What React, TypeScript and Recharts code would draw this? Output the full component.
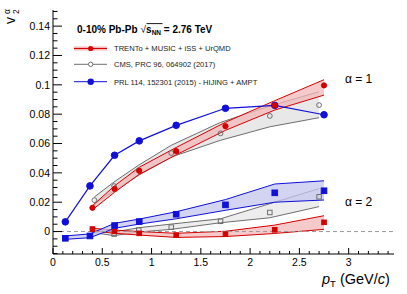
import React from 'react';
import { ComposedChart, Area, Line, Scatter, XAxis, YAxis, ReferenceLine } from 'recharts';

const FONT = '"Liberation Sans", Arial, Helvetica, sans-serif';

// TRENTo + MUSIC + iSS + UrQMD (red)
const trentoPt = [0.4, 0.625, 0.875, 1.25, 1.75, 2.25, 2.75];
const trentoV21 = [0.0162, 0.029, 0.0414, 0.0548, 0.0718, 0.086, 0.0996];
const trentoV21Lo = [0.0148, 0.0268, 0.039, 0.0523, 0.069, 0.0828, 0.093];
const trentoV21Hi = [0.0176, 0.0312, 0.0438, 0.0573, 0.0745, 0.0892, 0.1035];
const trentoV22 = [0.0017, 0.0001, -0.0012, -0.0024, -0.0018, 0.0012, 0.0063];
const trentoV22Lo = [0.0004, -0.0012, -0.0024, -0.004, -0.0034, -0.0013, 0.0015];
const trentoV22Hi = [0.0022, 0.001, 0.0, -0.0012, 0.0002, 0.0044, 0.0108];

// CMS, PRC 96, 064902 (2017) (gray)
const cmsPt = [0.42, 0.62, 0.87, 1.2, 1.7, 2.2, 2.7];
const cmsV21 = [0.0214, 0.031, 0.0418, 0.0535, 0.0669, 0.0788, 0.0862];
const cmsV21Lo = [0.019, 0.0277, 0.0384, 0.0508, 0.0622, 0.0714, 0.0776];
const cmsV21Hi = [0.0236, 0.0338, 0.0453, 0.0588, 0.0744, 0.0855, 0.0953];
const cmsV22 = [null, -0.0017, 0.001, 0.003, 0.007, 0.013, 0.0237];
const cmsV22Lo = [-0.0008, -0.0028, -0.0003, 0.0015, 0.006, 0.0094, 0.017];
const cmsV22Hi = [0.0009, -0.0003, 0.0026, 0.0051, 0.0087, 0.019, 0.0293];

// PRL 114, 152301 (2015) - HIJING + AMPT (blue)
const amptPt = [0.125, 0.375, 0.625, 0.875, 1.25, 1.75, 2.25, 2.75];
const amptV21 = [0.0066, 0.0311, 0.052, 0.0618, 0.0724, 0.084, 0.086, 0.0796];
const amptV22 = [-0.0046, -0.003, 0.0041, 0.0068, 0.0118, 0.0182, 0.0264, 0.0278];
const amptV22Lo = [-0.0053, -0.0042, 0.0022, 0.0051, 0.0087, 0.0145, 0.02, 0.0215];
const amptV22Hi = [-0.003, -0.0016, 0.0056, 0.0085, 0.0135, 0.0218, 0.0324, 0.0346];

// axis ticks
const xMajor = [0, 0.5, 1, 1.5, 2, 2.5, 3];
const xLabels = ['0', '0.5', '1', '1.5', '2', '2.5', '3'];
const yMajor = [0, 0.02, 0.04, 0.06, 0.08, 0.1, 0.12, 0.14];
const yLabels = ['0', '0.02', '0.04', '0.06', '0.08', '0.1', '0.12', '0.14'];
const xTicks = Array.from({ length: 35 }, (_, i) => i / 10);
const yTicks = Array.from({ length: 34 }, (_, i) => Math.round((i - 3) * 5) / 1000);

const X_DOMAIN: [number, number] = [0, 3.46];
const Y_DOMAIN: [number, number] = [-0.0153, 0.151];

const RED = '#d40000';
const RED_FILL = '#f3b8b8';
const GRAY = '#6e6e6e';
const GRAY_FILL = '#e8e8e8';
const BLUE = '#1010d8';
const BLUE_FILL = '#c4c4ee';

const band = (pt: number[], lo: number[], hi: number[]) =>
  pt.map((x, i) => ({ x, range: [lo[i], hi[i]] }));
const pts = (pt: number[], v: (number | null)[]) =>
  pt.map((x, i) => ({ x, y: v[i] })).filter((d) => d.y !== null);

const idxOf = (arr: number[], v: number) => arr.findIndex((m) => Math.abs(m - v) < 1e-9);

const BottomTick = (p: any) => {
  const { x, y, payload } = p;
  const i = idxOf(xMajor, payload.value);
  const len = i >= 0 ? 6 : 3;
  return (
    <g>
      <line x1={x} x2={x} y1={y} y2={y - len} stroke="#000" strokeWidth={1} />
      {i >= 0 && (
        <text x={x} y={y + 12} textAnchor="middle" fontSize={10.5} fontFamily={FONT} fill="#000">
          {xLabels[i]}
        </text>
      )}
    </g>
  );
};
const TopTick = (p: any) => {
  const { x, y, payload } = p;
  const len = idxOf(xMajor, payload.value) >= 0 ? 6 : 3;
  return <line x1={x} x2={x} y1={y} y2={y + len} stroke="#000" strokeWidth={1} />;
};
const LeftTick = (p: any) => {
  const { x, y, payload } = p;
  const i = idxOf(yMajor, payload.value);
  const len = i >= 0 ? 9 : 4.5;
  return (
    <g>
      <line x1={x} x2={x + len} y1={y} y2={y} stroke="#000" strokeWidth={1} />
      {i >= 0 && (
        <text x={x - 3} y={y} dy="0.36em" textAnchor="end" fontSize={10.5} fontFamily={FONT} fill="#000">
          {yLabels[i]}
        </text>
      )}
    </g>
  );
};
const RightTick = (p: any) => {
  const { x, y, payload } = p;
  const len = idxOf(yMajor, payload.value) >= 0 ? 9 : 4.5;
  return <line x1={x} x2={x - len} y1={y} y2={y} stroke="#000" strokeWidth={1} />;
};

const circle = (fill: string, stroke: string, r: number) => (p: any) =>
  <circle cx={p.cx} cy={p.cy} r={r} fill={fill} stroke={stroke} strokeWidth={1} />;
const square = (fill: string, stroke: string, s: number) => (p: any) =>
  <rect x={p.cx - s / 2} y={p.cy - s / 2} width={s} height={s} fill={fill} stroke={stroke} strokeWidth={1} />;

const Overlay = () => (
  <svg width={407} height={294} style={{ position: 'absolute', left: 0, top: 0, pointerEvents: 'none' }}>
    {/* y-axis title */}
    <text transform="translate(15,24) rotate(-90)" fontSize={14} fontFamily={FONT} fill="#000">v</text>
    <text transform="translate(19,14) rotate(-90)" fontSize={8.5} fontFamily={FONT} fill="#000">2</text>
    <text transform="translate(10,14) rotate(-90)" fontSize={8.5} fontFamily={FONT} fill="#000">α</text>
    {/* x-axis title */}
    <text x={322} y={284} fontSize={14.5} fontFamily={FONT} fill="#000">
      <tspan fontStyle="italic">p</tspan>
      <tspan fontSize={9.5} dy={3}>T</tspan>
      <tspan dy={-3} dx={4}>(GeV/</tspan>
      <tspan fontStyle="italic">c</tspan>
      <tspan>)</tspan>
    </text>
    {/* header */}
    <text x={77} y={33} fontSize={10} fontWeight="bold" fontFamily={FONT} fill="#000">
      0-10% Pb-Pb
      <tspan dx={3} fontWeight="normal">√</tspan>
      <tspan>s</tspan>
      <tspan fontSize={6.5} dy={2}>NN</tspan>
      <tspan dy={-2}> = 2.76 TeV</tspan>
    </text>
    <line x1={146.5} x2={162.5} y1={23.6} y2={23.6} stroke="#000" strokeWidth={0.9} />
    {/* legend */}
    <rect x={74} y={46.5} width={33} height={4} fill={RED_FILL} />
    <line x1={74} x2={107} y1={48.5} y2={48.5} stroke={RED} strokeWidth={1} />
    <circle cx={90.7} cy={48.5} r={2.6} fill={RED} />
    <text x={114} y={51.3} fontSize={7.6} fontFamily={FONT} fill="#222">TRENTo + MUSIC + iSS + UrQMD</text>
    <line x1={74} x2={107} y1={64.3} y2={64.3} stroke={GRAY} strokeWidth={1} />
    <circle cx={90.7} cy={64.3} r={2.2} fill="#fff" stroke={GRAY} strokeWidth={1} />
    <text x={114} y={67.1} fontSize={7.6} fontFamily={FONT} fill="#222">CMS, PRC 96, 064902 (2017)</text>
    <line x1={74} x2={107} y1={81.7} y2={81.7} stroke={BLUE} strokeWidth={1} />
    <circle cx={90.7} cy={81.7} r={3.2} fill={BLUE} />
    <text x={114} y={84.5} fontSize={7.6} fontFamily={FONT} fill="#222">PRL 114, 152301 (2015) - HIJING + AMPT</text>
    {/* alpha labels */}
    <text x={345} y={83} fontSize={12} fontFamily={FONT} fill="#000">α = 1</text>
    <text x={345} y={206} fontSize={12} fontFamily={FONT} fill="#000">α = 2</text>
  </svg>
);

export default function App() {
  return (
    <div style={{ position: 'absolute', left: 0, top: 0, width: 407, height: 294, background: '#fff' }}>
      <ComposedChart width={407} height={294} margin={{ top: 10, right: 13, bottom: 20, left: 0 }}>
        <XAxis
          xAxisId={0}
          type="number"
          dataKey="x"
          domain={X_DOMAIN}
          allowDataOverflow
          ticks={xTicks}
          interval={0}
          tickSize={0}
          tickMargin={0}
          tickLine={false}
          axisLine={{ stroke: '#000', strokeWidth: 1 }}
          tick={<BottomTick />}
          height={20}
        />
        <XAxis
          xAxisId="top"
          orientation="top"
          type="number"
          dataKey="x"
          domain={X_DOMAIN}
          allowDataOverflow
          ticks={xTicks}
          interval={0}
          tickSize={0}
          tickMargin={0}
          tickLine={false}
          axisLine={{ stroke: '#000', strokeWidth: 1 }}
          tick={<TopTick />}
          height={0}
        />
        <YAxis
          yAxisId={0}
          type="number"
          domain={Y_DOMAIN}
          allowDataOverflow
          ticks={yTicks}
          interval={0}
          tickSize={0}
          tickMargin={0}
          tickLine={false}
          axisLine={{ stroke: '#000', strokeWidth: 1 }}
          tick={<LeftTick />}
          width={53}
        />
        <YAxis
          yAxisId="right"
          orientation="right"
          type="number"
          domain={Y_DOMAIN}
          allowDataOverflow
          ticks={yTicks}
          interval={0}
          tickSize={0}
          tickMargin={0}
          tickLine={false}
          axisLine={{ stroke: '#000', strokeWidth: 1 }}
          tick={<RightTick />}
          width={0}
        />
        <ReferenceLine y={0} stroke="#9a9a9a" strokeDasharray="4 3" strokeWidth={1} />

        <Area data={band(cmsPt, cmsV21Lo, cmsV21Hi)} dataKey="range" type="linear" stroke={GRAY} strokeWidth={1} fill={GRAY_FILL} fillOpacity={1} isAnimationActive={false} dot={false} activeDot={false} />
        <Area data={band(cmsPt, cmsV22Lo, cmsV22Hi)} dataKey="range" type="linear" stroke={GRAY} strokeWidth={1} fill={GRAY_FILL} fillOpacity={0.8} isAnimationActive={false} dot={false} activeDot={false} />
        <Area data={band(trentoPt, trentoV21Lo, trentoV21Hi)} dataKey="range" type="linear" stroke={RED} strokeWidth={1} fill={RED_FILL} fillOpacity={0.75} isAnimationActive={false} dot={false} activeDot={false} />
        <Area data={band(trentoPt, trentoV22Lo, trentoV22Hi)} dataKey="range" type="linear" stroke={RED} strokeWidth={1} fill={RED_FILL} fillOpacity={0.75} isAnimationActive={false} dot={false} activeDot={false} />
        <Area data={band(amptPt, amptV22Lo, amptV22Hi)} dataKey="range" type="linear" stroke={BLUE} strokeWidth={1} fill={BLUE_FILL} fillOpacity={0.75} isAnimationActive={false} dot={false} activeDot={false} />

        <Line data={pts(amptPt, amptV21)} dataKey="y" type="linear" stroke={BLUE} strokeWidth={1.2} dot={circle(BLUE, BLUE, 3.3)} activeDot={false} isAnimationActive={false} />

        <Scatter data={pts(cmsPt, cmsV21)} dataKey="y" shape={circle('none', GRAY, 2.4)} isAnimationActive={false} />
        <Scatter data={pts(cmsPt, cmsV22)} dataKey="y" shape={square('none', GRAY, 4.5)} isAnimationActive={false} />
        <Scatter data={pts(trentoPt, trentoV21)} dataKey="y" shape={circle(RED, RED, 2.6)} isAnimationActive={false} />
        <Scatter data={pts(trentoPt, trentoV22)} dataKey="y" shape={square(RED, RED, 4.6)} isAnimationActive={false} />
        <Scatter data={pts(amptPt, amptV22)} dataKey="y" shape={square(BLUE, BLUE, 5.6)} isAnimationActive={false} />
      </ComposedChart>
      <Overlay />
    </div>
  );
}
